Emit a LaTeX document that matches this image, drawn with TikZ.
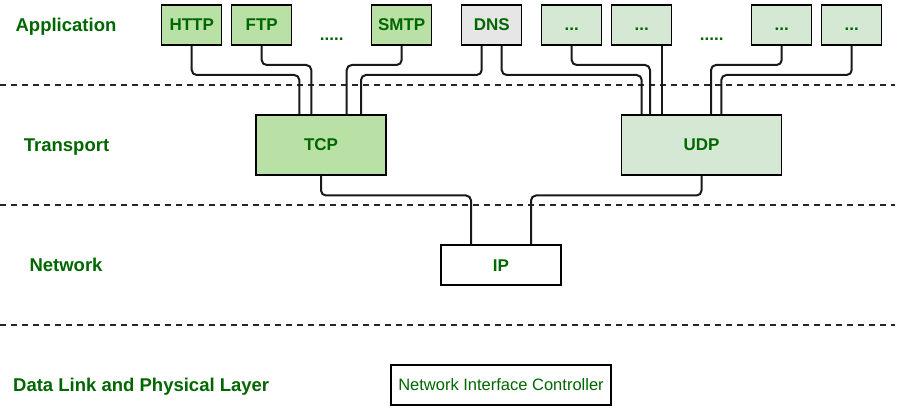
\documentclass[tikz,border=0pt]{standalone}
\usepackage{fontspec}
\setmainfont{Liberation Sans}
\definecolor{txtgreen}{RGB}{0,102,0}
\definecolor{fillA}{HTML}{B9E0A5}
\definecolor{fillB}{HTML}{D5E8D4}
\definecolor{fillC}{HTML}{E6E6E6}
\tikzset{
  box/.style={draw=black, line width=1.2pt, inner sep=0pt, text=txtgreen,
    font=\fontsize{17}{20}\selectfont\bfseries, text height=12pt, text depth=0pt},
  appbox/.style={box, minimum width=60pt, minimum height=40pt},
  layerlabel/.style={text=txtgreen, font=\fontsize{18.5}{22}\selectfont\bfseries, anchor=base, inner sep=0pt},
  dotslabel/.style={text=txtgreen, font=\fontsize{17}{20}\selectfont\bfseries, anchor=base, inner sep=0pt},
  conn/.style={draw=black!90, line width=2pt, rounded corners=5pt},
  sep/.style={draw=black!85, line width=2pt, dash pattern=on 6pt off 5pt},
}
\begin{document}
\begin{tikzpicture}[x=1pt,y=-1pt]
\useasboundingbox (0,0) rectangle (903,417);

% layer separators
\coordinate (s1a) at (0,85);   \coordinate (s1b) at (895,85);
\coordinate (s2a) at (0,205);  \coordinate (s2b) at (895,205);
\coordinate (s3a) at (0,325);  \coordinate (s3b) at (895,325);
\draw[sep] (s1a) -- (s1b);
\draw[sep] (s2a) -- (s2b);
\draw[sep] (s3a) -- (s3b);

% layer labels
\node[layerlabel] (lapp) at (66,31.5) {Application};
\node[layerlabel] (ltr) at (66.5,151.5) {Transport};
\node[layerlabel] (lnet) at (66,271.5) {Network};
\node[layerlabel] (ldl) at (141.2,391.5) {Data Link and Physical Layer};

% application boxes
\node[appbox, fill=fillA] (http) at (191.7,25) {HTTP};
\node[appbox, fill=fillA] (ftp)  at (261.7,25) {FTP};
\node[appbox, fill=fillA] (smtp) at (401.7,25) {SMTP};
\node[appbox, fill=fillC] (dns)  at (491.7,25) {DNS};
\node[appbox, fill=fillB] (u1)   at (571.7,25) {...};
\node[appbox, fill=fillB] (u2)   at (641.7,25) {...};
\node[appbox, fill=fillB] (u3)   at (781.7,25) {...};
\node[appbox, fill=fillB] (u4)   at (851.7,25) {...};
\node[dotslabel] (d1) at (331.7,40.5) {.....};
\node[dotslabel] (d2) at (711.7,40.5) {.....};

% transport
\node[box, fill=fillA, minimum width=130pt, minimum height=60pt] (tcp) at (321,145) {TCP};
\node[box, fill=fillB, minimum width=160pt, minimum height=60pt] (udp) at (701.5,145) {UDP};

% network
\node[box, fill=white, minimum width=120pt, minimum height=40pt] (ip) at (501,265) {IP};

% data link
\node[box, fill=white, minimum width=220pt, minimum height=40pt, font=\fontsize{16.5}{20}\selectfont, text height=11.6pt] (nic) at (501,385) {Network Interface Controller};

% attachment points
\coordinate (t1) at ([xshift=-21.7pt]tcp.north);
\coordinate (t2) at ([xshift=-9.7pt]tcp.north);
\coordinate (t3) at ([xshift=25.7pt]tcp.north);
\coordinate (t4) at ([xshift=40pt]tcp.north);
\coordinate (v1) at ([xshift=-59.8pt]udp.north);
\coordinate (v2) at ([xshift=-51.5pt]udp.north);
\coordinate (v3) at ([xshift=-39.8pt]udp.north);
\coordinate (v4) at ([xshift=9.5pt]udp.north);
\coordinate (v5) at ([xshift=19.8pt]udp.north);
\coordinate (dnsa) at ([xshift=-10pt]dns.south);
\coordinate (dnsb) at ([xshift=10pt]dns.south);
\coordinate (u2o) at ([xshift=20pt]u2.south);
\coordinate (ipa) at ([xshift=-30pt]ip.north);
\coordinate (ipb) at ([xshift=30pt]ip.north);

% application -> transport
\draw[conn] (http.south) -- (http.south |- 0,75) -- (t1 |- 0,75) -- (t1);
\draw[conn] (ftp.south) -- (ftp.south |- 0,65) -- (t2 |- 0,65) -- (t2);
\draw[conn] (smtp.south) -- (smtp.south |- 0,65) -- (t3 |- 0,65) -- (t3);
\draw[conn] (dnsa) -- (dnsa |- 0,75) -- (t4 |- 0,75) -- (t4);
\draw[conn] (dnsb) -- (dnsb |- 0,75) -- (v1 |- 0,75) -- (v1);
\draw[conn] (u1.south) -- (u1.south |- 0,65) -- (v2 |- 0,65) -- (v2);
\draw[conn] (u2o) -- (v3);
\draw[conn] (u3.south) -- (u3.south |- 0,65) -- (v4 |- 0,65) -- (v4);
\draw[conn] (u4.south) -- (u4.south |- 0,75) -- (v5 |- 0,75) -- (v5);

% transport -> network
\draw[conn] (tcp.south) -- (tcp.south |- 0,195.5) -- (ipa |- 0,195.5) -- (ipa);
\draw[conn] (udp.south) -- (udp.south |- 0,195.5) -- (ipb |- 0,195.5) -- (ipb);

\end{tikzpicture}
\end{document}
